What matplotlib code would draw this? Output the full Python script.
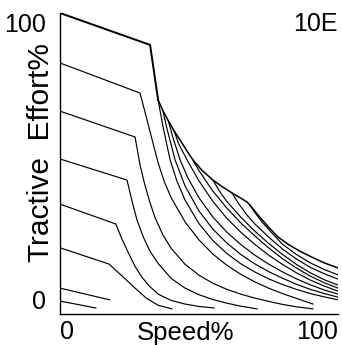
import matplotlib.pyplot as plt

plt.rcParams['font.family'] = ['Liberation Sans', 'DejaVu Sans']

# low notches: speed % and tractive effort %
n3_x = [0, 12.9]
n3_y = [4.3, 2.0]
n4_x = [0, 17.9]
n4_y = [8.6, 4.7]
n5_x = [0, 17.6, 21.9, 27.0, 31.0, 35.3, 40.3]
n5_y = [22.0, 16.6, 13.0, 8.6, 5.3, 2.9, 1.7]
n6_x = [0, 20.1, 22.0, 24.5, 27.0, 29.5, 32.0, 35.3, 40.0, 45.0, 50.0, 55.4]
n6_y = [36.5, 29.9, 25.5, 20.5, 15.8, 12.2, 9.4, 6.6, 4.5, 3.3, 2.5, 2.0]
n7_x = [0, 24.1, 26.0, 27.7, 30.0, 32.4, 35.3, 40.0, 45.0, 50.0, 55.0, 60.0, 65.0, 70.9]
n7_y = [51.5, 44.5, 37.2, 31.2, 25.5, 20.8, 16.8, 11.8, 8.6, 6.4, 4.8, 3.6, 2.6, 1.7]
n8_x = [0, 27.0, 28.8, 30.5, 32.3, 34.2, 37.0, 40.0, 45.0, 50.0, 55.0, 60.0, 65.0,
        70.0, 75.0, 80.0, 85.0, 91.0]
n8_y = [67.4, 58.8, 49.5, 43.0, 37.2, 32.0, 26.3, 21.8, 16.5, 12.9, 10.2, 8.2, 6.6,
        5.3, 4.2, 3.2, 2.4, 1.7]
n9_x = [0, 28.8, 35.3, 37.5, 40.0, 45.0, 50.0, 55.0, 60.0, 65.0, 70.0, 75.0, 80.0, 85.0, 91.0]
n9_y = [83.4, 73.4, 50.2, 44.0, 38.6, 30.6, 24.6, 19.9, 16.2, 13.2, 10.7, 8.6, 6.8, 5.2, 3.3]

# top notch, full field up to the drop
top_x = [0, 32.4, 35.3]
top_y = [100, 89.4, 71.1]
full_x = [35.3, 37.0, 39.6, 42.0, 45.0, 50.0, 55.0, 60.0, 65.0, 70.0, 75.0, 80.0, 85.0,
          90.0, 95.0, 100.0]
full_y = [71.1, 62.5, 51.2, 44.3, 37.8, 30.0, 24.4, 20.1, 16.7, 14.0, 11.7, 9.8, 8.2,
          6.8, 5.7, 4.7]

# outer limit curve
env_x = [35.3, 37.0, 39.0, 41.0, 43.2, 45.5, 47.8, 51.0, 55.0, 58.5, 61.9, 65.0, 67.3,
         68.3, 71.2, 75.0, 78.4, 82.0, 86.0, 90.6, 95.0, 100.0]
env_y = [71.1, 67.6, 64.1, 60.9, 57.8, 54.4, 51.2, 47.8, 44.5, 42.2, 40.2, 38.5, 37.2,
         36.2, 32.9, 28.9, 25.6, 23.2, 21.0, 18.9, 17.0, 15.3]

# field weakening steps
fw1_x = [37.0, 38.5, 41.4, 45.0, 50.0, 55.0, 60.0, 65.0, 70.0, 75.0, 80.0, 85.0, 90.0, 95.0, 100.0]
fw1_y = [67.6, 61.5, 51.2, 42.5, 34.2, 28.2, 23.6, 19.8, 16.7, 14.1, 11.9, 9.9, 8.2, 6.8, 5.6]
fw2_x = [39.0, 40.5, 43.2, 46.0, 50.0, 55.0, 60.0, 65.0, 70.0, 75.0, 80.0, 85.0, 90.0, 95.0, 100.0]
fw2_y = [64.1, 59.0, 51.2, 45.2, 38.6, 32.2, 27.2, 23.1, 19.6, 16.6, 14.0, 11.7, 9.7, 8.0, 6.6]
fw3_x = [41.0, 42.8, 45.7, 50.0, 55.0, 60.0, 65.0, 70.0, 75.0, 80.0, 85.0, 90.0, 95.0, 100.0]
fw3_y = [60.9, 56.3, 51.2, 44.2, 37.4, 31.8, 27.2, 23.2, 19.6, 16.5, 13.7, 11.3, 9.3, 7.6]
fw4_x = [47.8, 50.0, 55.0, 60.0, 65.0, 70.0, 75.0, 80.0, 85.0, 90.0, 95.0, 100.0]
fw4_y = [51.2, 47.6, 40.8, 35.2, 30.3, 26.0, 22.0, 18.4, 15.3, 12.6, 10.4, 8.6]
fw5_x = [55.0, 57.5, 60.0, 65.0, 70.0, 75.0, 80.0, 85.0, 90.0, 95.0, 100.0]
fw5_y = [44.5, 40.6, 37.4, 32.2, 27.6, 23.5, 19.8, 16.5, 13.7, 11.4, 9.6]
fw6_x = [61.9, 64.0, 67.0, 70.0, 75.0, 80.0, 85.0, 90.0, 95.0, 100.0]
fw6_y = [40.2, 37.0, 33.2, 30.0, 25.6, 21.6, 18.3, 15.5, 13.4, 11.6]
fw7_x = [68.3, 70.0, 73.0, 76.0, 80.0, 85.0, 90.0, 95.0, 100.0]
fw7_y = [36.2, 33.8, 30.2, 27.2, 23.2, 19.8, 17.0, 14.8, 13.0]

fig = plt.figure(figsize=(3.42, 3.45), dpi=100)
ax = fig.add_axes([60 / 342, 1 - 314 / 345, 278 / 342, 301 / 345])

thin = [(n3_x, n3_y), (n4_x, n4_y), (n5_x, n5_y), (n6_x, n6_y), (n7_x, n7_y),
        (n8_x, n8_y), (n9_x, n9_y), (full_x, full_y), (fw1_x, fw1_y), (fw2_x, fw2_y),
        (fw3_x, fw3_y), (fw4_x, fw4_y), (fw5_x, fw5_y), (fw6_x, fw6_y), (fw7_x, fw7_y)]
for xs, ys in thin:
    ax.plot(xs, ys, c='black', lw=0.85)
ax.plot(env_x, env_y, c='black', lw=1.1)
ax.plot(top_x, top_y, c='black', lw=1.4)

ax.set_xlim(0, 100)
ax.set_ylim(0, 100)
for side in ['top', 'right']:
    ax.spines[side].set_visible(False)
for side in ['left', 'bottom']:
    ax.spines[side].set_linewidth(1.0)

ax.set_xticks([0, 100])
ax.set_xticklabels(['0', '100'], fontsize=18)
ax.set_yticks([0, 100])
ax.set_yticklabels(['0', '100'], fontsize=18)
ax.tick_params(axis='x', length=0, pad=4)
ax.tick_params(axis='y', length=0, pad=10)
xl = ax.get_xticklabels()
xl[0].set_ha('left')
xl[1].set_ha('right')
yl = ax.get_yticklabels()
yl[0].set_va('bottom')
yl[1].set_va('top')

fig.text(186 / 342, 1 - 321 / 345, 'Speed%', fontsize=18.5, ha='center', va='top')
fig.text(41 / 342, 1 - 152 / 345, 'Tractive  Effort%', fontsize=21.5, rotation=90,
         ha='center', va='center')
fig.text(338 / 342, 1 - 12 / 345, '10E', fontsize=18, ha='right', va='top')

fig.savefig('out.png', dpi=100)
